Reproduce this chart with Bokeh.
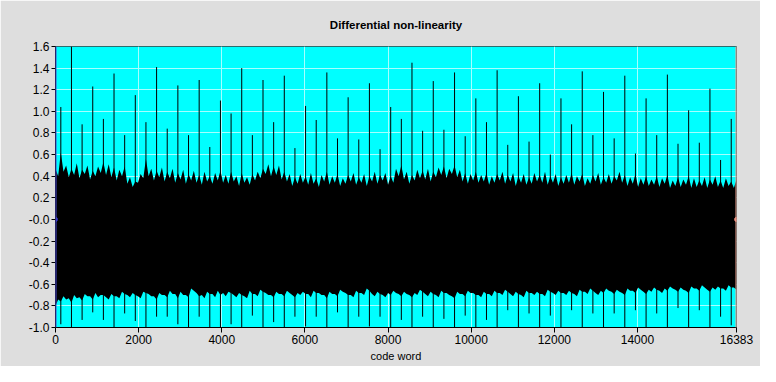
from bokeh.plotting import figure
from bokeh.models import FixedTicker, Span, Range1d, PrintfTickFormatter
from bokeh.embed import file_html
from bokeh.resources import INLINE

# ---- data ----
N_CODES = 16383
ENV_STEP = 128          # envelope sampled every 128 codes (peaks), with a dip half way
SPIKE_FIRST = 128       # first periodic spike code
SPIKE_STEP = 256        # spike spacing in codes

# upper edge of the dense DNL band: local peaks every 128 codes
UPPER = [
    0.47, 0.62, 0.50, 0.47, 0.52, 0.46, 0.50, 0.45, 0.49, 0.53, 0.51, 0.48, 0.46, 0.49, 0.39, 0.35,
    0.42, 0.56, 0.47, 0.45, 0.48, 0.44, 0.47, 0.43, 0.46, 0.42, 0.45, 0.41, 0.44, 0.40, 0.43, 0.45,
    0.41, 0.44, 0.40, 0.43, 0.39, 0.42, 0.44, 0.47, 0.51, 0.49, 0.50, 0.44, 0.42, 0.39, 0.42, 0.40,
    0.43, 0.38, 0.41, 0.44, 0.40, 0.42, 0.38, 0.41, 0.43, 0.39, 0.42, 0.40, 0.44, 0.41, 0.43, 0.40,
    0.47, 0.50, 0.44, 0.41, 0.46, 0.45, 0.47, 0.44, 0.48, 0.49, 0.47, 0.50, 0.46, 0.43, 0.42, 0.44,
    0.41, 0.43, 0.40, 0.42, 0.44, 0.41, 0.43, 0.40, 0.42, 0.39, 0.43, 0.41, 0.44, 0.40, 0.42, 0.39,
    0.41, 0.43, 0.40, 0.42, 0.38, 0.41, 0.43, 0.39, 0.42, 0.40, 0.44, 0.41, 0.39, 0.42, 0.38, 0.40,
    0.37, 0.40, 0.38, 0.41, 0.36, 0.39, 0.37, 0.40, 0.38, 0.36, 0.39, 0.37, 0.40, 0.36, 0.38, 0.35, 0.37,
]
# upper edge: dips half way between the peaks
UPPER_DIP = [
    0.40, 0.44, 0.39, 0.41, 0.38, 0.42, 0.37, 0.40, 0.43, 0.41, 0.39, 0.36, 0.40, 0.33, 0.30, 0.34,
    0.38, 0.40, 0.36, 0.39, 0.35, 0.38, 0.34, 0.37, 0.33, 0.36, 0.34, 0.32, 0.35, 0.33, 0.36, 0.34,
    0.33, 0.35, 0.31, 0.34, 0.32, 0.36, 0.38, 0.42, 0.40, 0.41, 0.37, 0.35, 0.31, 0.33, 0.34, 0.32,
    0.33, 0.30, 0.35, 0.32, 0.34, 0.31, 0.33, 0.35, 0.32, 0.34, 0.31, 0.35, 0.33, 0.36, 0.32, 0.34,
    0.40, 0.37, 0.33, 0.36, 0.38, 0.37, 0.35, 0.39, 0.41, 0.38, 0.42, 0.39, 0.35, 0.33, 0.36, 0.34,
    0.35, 0.32, 0.34, 0.36, 0.33, 0.35, 0.31, 0.34, 0.32, 0.33, 0.35, 0.34, 0.32, 0.34, 0.31, 0.33,
    0.34, 0.32, 0.35, 0.31, 0.33, 0.35, 0.32, 0.34, 0.33, 0.36, 0.34, 0.31, 0.33, 0.30, 0.32, 0.31,
    0.32, 0.30, 0.33, 0.29, 0.31, 0.30, 0.32, 0.29, 0.30, 0.31, 0.29, 0.32, 0.30, 0.29, 0.31, 0.29,
]

# lower edge of the dense DNL band: local minima every 128 codes
LOWER = [
    -0.80, -0.76, -0.74, -0.77, -0.73, -0.75, -0.71, -0.74, -0.72, -0.70, -0.74, -0.71, -0.73, -0.69, -0.72, -0.70,
    -0.73, -0.68, -0.71, -0.74, -0.70, -0.72, -0.69, -0.73, -0.70, -0.72, -0.66, -0.71, -0.73, -0.69, -0.72, -0.70,
    -0.71, -0.68, -0.72, -0.70, -0.73, -0.69, -0.71, -0.67, -0.70, -0.72, -0.69, -0.71, -0.68, -0.72, -0.70, -0.69,
    -0.72, -0.68, -0.70, -0.73, -0.69, -0.71, -0.67, -0.70, -0.72, -0.68, -0.70, -0.66, -0.71, -0.69, -0.72, -0.70,
    -0.68, -0.71, -0.69, -0.72, -0.70, -0.67, -0.71, -0.69, -0.72, -0.68, -0.70, -0.73, -0.69, -0.71, -0.68, -0.70,
    -0.72, -0.69, -0.71, -0.68, -0.70, -0.67, -0.71, -0.69, -0.72, -0.68, -0.70, -0.69, -0.71, -0.67, -0.70, -0.68,
    -0.70, -0.68, -0.71, -0.67, -0.69, -0.66, -0.70, -0.68, -0.66, -0.69, -0.67, -0.70, -0.66, -0.68, -0.65, -0.69,
    -0.67, -0.65, -0.68, -0.66, -0.64, -0.67, -0.65, -0.68, -0.64, -0.66, -0.63, -0.67, -0.65, -0.64, -0.66, -0.63, -0.65,
]
# lower edge: inward notches half way between the minima
LOWER_DIP = [
    -0.74, -0.71, -0.73, -0.70, -0.72, -0.69, -0.71, -0.68, -0.70, -0.72, -0.69, -0.71, -0.67, -0.70, -0.68, -0.71,
    -0.67, -0.69, -0.71, -0.68, -0.70, -0.66, -0.69, -0.67, -0.70, -0.64, -0.68, -0.70, -0.67, -0.69, -0.66, -0.68,
    -0.67, -0.70, -0.68, -0.71, -0.66, -0.69, -0.65, -0.68, -0.70, -0.67, -0.69, -0.66, -0.70, -0.68, -0.67, -0.69,
    -0.66, -0.68, -0.70, -0.67, -0.69, -0.65, -0.68, -0.70, -0.66, -0.68, -0.64, -0.69, -0.67, -0.70, -0.68, -0.66,
    -0.69, -0.67, -0.70, -0.68, -0.65, -0.69, -0.67, -0.70, -0.66, -0.68, -0.71, -0.67, -0.69, -0.66, -0.68, -0.70,
    -0.67, -0.69, -0.66, -0.68, -0.65, -0.69, -0.67, -0.70, -0.66, -0.68, -0.67, -0.69, -0.65, -0.68, -0.66, -0.68,
    -0.66, -0.69, -0.65, -0.67, -0.64, -0.68, -0.66, -0.64, -0.67, -0.65, -0.68, -0.64, -0.66, -0.63, -0.67, -0.65,
    -0.63, -0.66, -0.64, -0.62, -0.65, -0.63, -0.66, -0.62, -0.64, -0.61, -0.65, -0.63, -0.62, -0.64, -0.61, -0.63,
]

# periodic spikes at codes 128 + 256k (k = 0..63)
SPIKE_UP = [
    1.04, 1.60, 0.88, 1.23, 0.93, 1.35, 0.78, 1.15, 0.90, 1.41, 0.84, 1.24, 0.78, 1.29, 0.67, 1.10,
    0.98, 1.40, 0.78, 1.29, 0.90, 1.33, 0.66, 1.05, 0.92, 1.36, 0.75, 1.13, 0.74, 1.26, 0.65, 1.04,
    0.93, 1.45, 0.82, 1.28, 0.83, 1.36, 0.77, 1.12, 0.90, 1.38, 0.69, 1.14, 0.72, 1.26, 0.60, 1.12,
    0.88, 1.37, 0.78, 1.18, 0.75, 1.33, 0.61, 1.12, 0.78, 1.34, 0.70, 1.01, 0.71, 1.21, 0.55, 0.93,
]
SPIKE_DOWN = [
    -0.97, -1.00, -0.93, -0.86, -0.93, -1.00, -0.87, -0.94, -1.00, -0.90, -0.90, -0.97, -1.00, -0.90, -1.00, -1.00,
    -0.97, -1.00, -0.89, -1.00, -0.95, -1.00, -0.90, -0.99, -0.90, -1.00, -0.86, -1.00, -0.90, -0.99, -0.90, -1.00,
    -0.93, -1.00, -0.90, -1.00, -0.92, -1.00, -0.89, -1.00, -0.93, -1.00, -0.84, -1.00, -0.87, -1.00, -0.89, -1.00,
    -0.84, -1.00, -0.87, -1.00, -0.87, -1.00, -0.84, -1.00, -0.87, -1.00, -0.82, -1.00, -0.84, -1.00, -0.90, -0.98,
]

X_TICKS = [0, 2000, 4000, 6000, 8000, 10000, 12000, 14000, 16383]
Y_TICKS = [-1.0, -0.8, -0.6, -0.4, -0.2, 0.0, 0.2, 0.4, 0.6, 0.8, 1.0, 1.2, 1.4, 1.6]

TITLE = "Differential non-linearity"
X_LABEL = "code word"

# ---- interleave peaks and dips along the code axis ----
env_x, env_hi, env_lo = [], [], []
for i in range(len(UPPER)):
    env_x.append(min(i * ENV_STEP, N_CODES))
    env_hi.append(UPPER[i])
    env_lo.append(LOWER[i])
    if i < len(UPPER_DIP):
        env_x.append(i * ENV_STEP + ENV_STEP // 2)
        env_hi.append(UPPER_DIP[i])
        env_lo.append(LOWER_DIP[i])

spike_codes = [SPIKE_FIRST + k * SPIKE_STEP for k in range(len(SPIKE_UP))]

FONT = "Liberation Sans"

p = figure(
    width=760, height=366,
    output_backend="svg", toolbar_location=None,
    x_range=Range1d(0, N_CODES), y_range=Range1d(-1.0, 1.6),
    min_border_left=55, min_border_right=24, min_border_top=46, min_border_bottom=39,
    title=TITLE,
)
p.background_fill_color = "#00ffff"
p.border_fill_color = "#dedede"
p.outline_line_color = "#2a6e6e"

p.title.text_font = FONT
p.title.text_font_size = "11.5px"
p.title.text_font_style = "bold"
p.title.align = "center"
p.title.text_color = "black"
p.title.standoff = 32

p.xgrid.grid_line_color = "#a6ffff"
p.ygrid.grid_line_color = "#a6ffff"

# dense band
p.varea(x=env_x, y1=env_lo, y2=env_hi, fill_color="black")

# periodic spikes
p.segment(x0=spike_codes, y0=[0] * len(spike_codes), x1=spike_codes, y1=SPIKE_UP,
          line_color="black", line_width=1)
p.segment(x0=spike_codes, y0=[0] * len(spike_codes), x1=spike_codes, y1=SPIKE_DOWN,
          line_color="black", line_width=1)

# cursors
p.add_layout(Span(location=0, dimension="height", line_color="#4a4ad6", line_width=2))
p.add_layout(Span(location=N_CODES, dimension="height", line_color="#f4a090", line_width=2))
p.scatter([0], [0], size=4, color="#3030c0")
p.scatter([N_CODES], [0], size=4, color="#e08070")

# axes
p.xaxis.ticker = FixedTicker(ticks=X_TICKS)
p.yaxis.ticker = FixedTicker(ticks=Y_TICKS)
p.yaxis.formatter = PrintfTickFormatter(format="%.1f")
p.yaxis.major_label_overrides = {0: "-0.0"}
p.xaxis.axis_label = X_LABEL
for ax in (p.xaxis, p.yaxis):
    ax.minor_tick_line_color = None
    ax.major_tick_in = 0
    ax.major_tick_line_color = "black"
    ax.axis_line_color = "black"
    ax.major_label_text_font = FONT
    ax.major_label_text_font_size = "12px"
    ax.major_label_text_color = "black"
    ax.axis_label_text_font = FONT
    ax.axis_label_text_font_size = "11px"
    ax.axis_label_text_font_style = "normal"
    ax.axis_label_text_color = "black"
p.xaxis.major_tick_out = 5
p.yaxis.major_tick_out = 4
p.xaxis.major_label_standoff = 2
p.yaxis.major_label_standoff = 2
p.xaxis.axis_label_standoff = 3

open("out.html", "w").write(file_html(p, INLINE))
